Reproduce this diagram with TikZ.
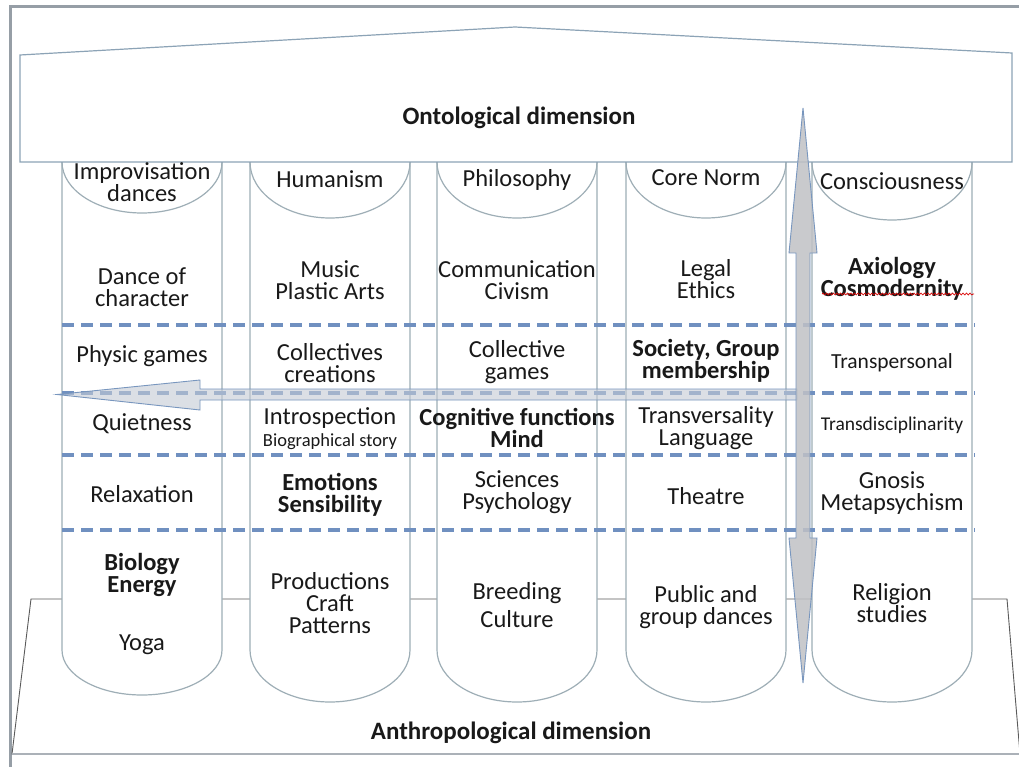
\documentclass[tikz,border=0pt]{standalone}
\usepackage{fontspec}
\setmainfont{Carlito}
\usetikzlibrary{decorations.pathmorphing}
\definecolor{colline}{RGB}{158,174,182}
\definecolor{roofline}{RGB}{140,163,182}
\definecolor{dashblue}{RGB}{112,144,192}
\definecolor{framegrey}{RGB}{150,158,166}
\definecolor{basegrey}{RGB}{90,90,90}
\definecolor{hfill}{RGB}{196,203,212}
\definecolor{vfill}{RGB}{192,193,197}
\definecolor{arrline}{RGB}{120,150,190}
\tikzset{
  lbl/.style={align=center, inner sep=0pt, text=black!90,
              font=\fontsize{24.5}{22}\selectfont},
  lblb/.style={lbl, font=\fontsize{24.5}{22}\selectfont\bfseries},
  pillar/.style={draw=colline, line width=1.2pt, fill=white},
  level/.style={draw=dashblue, line width=3.2pt, dash pattern=on 12pt off 7pt},
  blockarrow/.style={draw=arrline, line width=0.9pt}
}
\begin{document}
\begin{tikzpicture}[x=1pt,y=-1pt]
\useasboundingbox (0,0) rectangle (1019,767);
\clip (0,0) rectangle (1019,767);
\fill[white] (0,0) rectangle (1019,767);
\def \hw {80}

% frame
\draw[framegrey, line width=3pt] (9,7) -- (1019,7);
\draw[framegrey, line width=3pt] (10,6) -- (10,767);

% base
\draw[basegrey, line width=0.9pt, fill=white] (31,599) -- (1007,599) -- (1020,754) -- (12,754) -- cycle;
\draw[framegrey!80, line width=2pt] (12,754) -- (1019,754);
\node[lblb, font=\fontsize{25}{22}\selectfont\bfseries] (anthro) at (511,733) {Anthropological dimension};

% pillars
\foreach \cx/\rb/\rt in {142/45/51, 330/52/56, 517/52/56, 706/52/56, 892/52/58}{
  \draw[pillar] (\cx-\hw,162) -- (\cx-\hw,650)
     arc[start angle=180, end angle=0, x radius=\hw, y radius=\rb] -- (\cx+\hw,162);
  \draw[draw=colline, line width=1.2pt] (\cx-\hw,162)
     arc[start angle=180, end angle=0, x radius=\hw, y radius=\rt];
}

% levels
\foreach \y in {325,393,455,530}
  \draw[level] (62,\y) -- (975,\y);

% roof
\draw[roofline, line width=1.2pt, fill=white] (20,162) -- (20,55) -- (515,27) -- (1012,53) -- (1012,162) -- cycle;
\node[lblb, font=\fontsize{25}{22}\selectfont\bfseries] (onto) at (519,118) {Ontological dimension};

% capitals
\node[lbl] (impro) at (142,182) {Improvisation\\dances};
\node[lbl] (human) at (330,179) {Humanism};
\node[lbl] (philo) at (517,180) {Philosophy};
\node[lbl] (norm) at (706,178) {Core Norm};
\node[lbl] (consc) at (892,181) {Consciousness};

% row 1
\node[lbl] (dance) at (142,287) {Dance of\\character};
\node[lbl] (music) at (330,280) {Music\\Plastic Arts};
\node[lbl] (commu) at (517,280) {Communication\\Civism};
\node[lbl] (legal) at (706,279) {Legal\\Ethics};
\node[lblb] (axio) at (892,279) {Axiology\\Cosmodernity};
\draw[red!85!black, line width=0.7pt, decorate,
      decoration={snake, amplitude=0.9pt, segment length=3.5pt}] (822,294) -- (974,294);

% row 2
\node[lbl] (physic) at (142,356) {Physic games};
\node[lbl] (creat) at (330,363) {Collectives\\creations};
\node[lbl] (games) at (517,362) {Collective\\games};
\node[lblb] (society) at (706,361) {Society, Group\\membership};
\node[lbl, font=\fontsize{21.5}{22}\selectfont] (transp) at (892,363) {Transpersonal};

% row 3
\node[lbl] (quiet) at (142,424) {Quietness};
\node[lbl] (intro) at (330,418) {Introspection};
\node[lbl, font=\fontsize{18.5}{18}\selectfont] (bio) at (330,442) {Biographical story};
\node[lblb] (cogn) at (517,428) {Cognitive functions\\Mind};
\node[lbl] (transv) at (706,428) {Transversality\\Language};
\node[lbl, font=\fontsize{19.5}{18}\selectfont] (transd) at (892,425) {Transdisciplinarity};

% row 4
\node[lbl] (relax) at (142,494) {Relaxation};
\node[lblb] (emot) at (330,495) {Emotions\\Sensibility};
\node[lbl] (scien) at (517,492) {Sciences\\Psychology};
\node[lbl] (theat) at (706,496) {Theatre};
\node[lbl] (gnosis) at (892,493) {Gnosis\\Metapsychism};

% row 5
\node[lblb] (biol) at (142,575) {Biology\\Energy};
\node[lbl] (yoga) at (142,645) {Yoga};
\node[lbl] (prod) at (330,603) {Productions\\Craft\\Patterns};
\node[lbl] (breed) at (517,605) {Breeding\\[6pt]Culture};
\node[lbl] (public) at (706,607) {Public and\\group dances};
\node[lbl] (relig) at (892,603) {Religion\\studies};

% arrows
\draw[blockarrow, fill=hfill, fill opacity=0.6] (797,389) -- (200,389) -- (200,380) -- (57,394.5)
   -- (200,410) -- (200,400) -- (797,400) -- cycle;
\draw[blockarrow, fill=vfill, fill opacity=0.85] (803,108) -- (817,253) -- (810,253) -- (810,538)
   -- (817,538) -- (803,683) -- (789,538) -- (796,538) -- (796,253) -- (789,253) -- cycle;

\end{tikzpicture}
\end{document}
